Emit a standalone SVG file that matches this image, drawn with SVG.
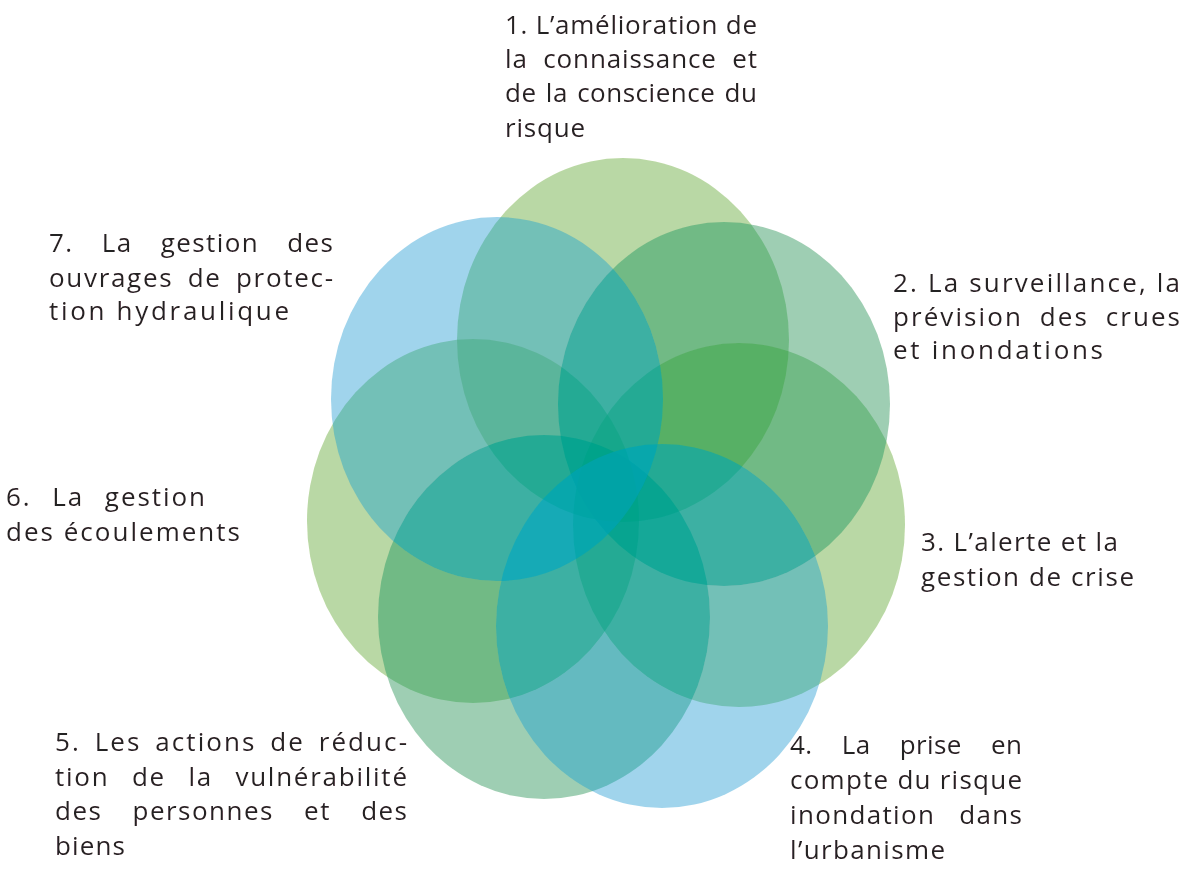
<svg xmlns="http://www.w3.org/2000/svg" width="1182" height="882" viewBox="0 0 1182 882">
<defs>
<filter id="tone" filterUnits="userSpaceOnUse" x="0" y="0" width="1182" height="882" color-interpolation-filters="sRGB">
<feComponentTransfer>
<feFuncR type="table" tableValues="0 0 0 0.176 0.373 0.471 0.588 0.694 0.8 0.9 1"/>
<feFuncG type="table" tableValues="0 0.1 0.2 0.314 0.431 0.549 0.643 0.718 0.804 0.9 1"/>
<feFuncB type="table" tableValues="0 0.1 0.2 0.353 0.463 0.549 0.627 0.714 0.804 0.9 1"/>
</feComponentTransfer>
</filter>
</defs>
<style>
.lbl{font-family:"Open Sans","Noto Sans","Liberation Sans",sans-serif;font-size:26px;fill:#472323}
.c{fill-opacity:0.42}
.lg{fill:#5da21a}
.mg{fill:#1f8a43}
.bl{fill:#2499d2}
</style>
<g id="diagram" filter="url(#tone)">
<rect width="1182" height="882" fill="#ffffff"/>
<g id="connectors"/>
<g id="node1">
<ellipse class="c lg" cx="623" cy="340" rx="166" ry="182"/>
<text class="lbl">
<tspan x="505" y="34" textLength="252" lengthAdjust="spacing">1. L’amélioration de</tspan>
<tspan x="505" y="68" textLength="252" lengthAdjust="spacing" word-spacing="8">la connaissance et</tspan>
<tspan x="505" y="102" textLength="252" lengthAdjust="spacing" word-spacing="2">de la conscience du</tspan>
<tspan x="505" y="137" textLength="80" lengthAdjust="spacing">risque</tspan>
</text>
</g>
<g id="node3">
<ellipse class="c lg" cx="739" cy="525" rx="166" ry="182"/>
<text class="lbl">
<tspan x="921" y="551" textLength="197" lengthAdjust="spacing">3. L’alerte et la</tspan>
<tspan x="921" y="586" textLength="213" lengthAdjust="spacing">gestion de crise</tspan>
</text>
</g>
<g id="node6">
<ellipse class="c lg" cx="473" cy="521" rx="166" ry="182"/>
<text class="lbl">
<tspan x="6" y="506" textLength="199" lengthAdjust="spacing" word-spacing="12">6. La gestion</tspan>
<tspan x="6" y="541" textLength="234" lengthAdjust="spacing">des écoulements</tspan>
</text>
</g>
<g id="node2">
<ellipse class="c mg" cx="724" cy="404" rx="166" ry="182"/>
<text class="lbl">
<tspan x="893" y="292" textLength="287" lengthAdjust="spacing">2. La surveillance, la</tspan>
<tspan x="893" y="326" textLength="287" lengthAdjust="spacing" word-spacing="8">prévision des crues</tspan>
<tspan x="893" y="359" textLength="210" lengthAdjust="spacing">et inondations</tspan>
</text>
</g>
<g id="node5">
<ellipse class="c mg" cx="544" cy="617" rx="166" ry="182"/>
<text class="lbl">
<tspan x="55" y="751" textLength="352" lengthAdjust="spacing" word-spacing="5">5. Les actions de réduc-</tspan>
<tspan x="55" y="786" textLength="352" lengthAdjust="spacing" word-spacing="14">tion de la vulnérabilité</tspan>
<tspan x="55" y="820" textLength="352" lengthAdjust="spacing" word-spacing="22">des personnes et des</tspan>
<tspan x="55" y="855" textLength="70" lengthAdjust="spacing">biens</tspan>
</text>
</g>
<g id="node4">
<ellipse class="c bl" cx="662" cy="626" rx="166" ry="182"/>
<text class="lbl">
<tspan x="790" y="754" textLength="232" lengthAdjust="spacing" word-spacing="22">4. La prise en</tspan>
<tspan x="790" y="789" textLength="232" lengthAdjust="spacing">compte du risque</tspan>
<tspan x="790" y="824" textLength="232" lengthAdjust="spacing" word-spacing="16">inondation dans</tspan>
<tspan x="790" y="859" textLength="155" lengthAdjust="spacing">l’urbanisme</tspan>
</text>
</g>
<g id="node7">
<ellipse class="c bl" cx="497" cy="399" rx="166" ry="182"/>
<text class="lbl">
<tspan x="49" y="252" textLength="284" lengthAdjust="spacing" word-spacing="20">7. La gestion des</tspan>
<tspan x="49" y="287" textLength="284" lengthAdjust="spacing" word-spacing="6">ouvrages de protec-</tspan>
<tspan x="49" y="320" textLength="240" lengthAdjust="spacing">tion hydraulique</tspan>
</text>
</g>
</g>
</svg>
